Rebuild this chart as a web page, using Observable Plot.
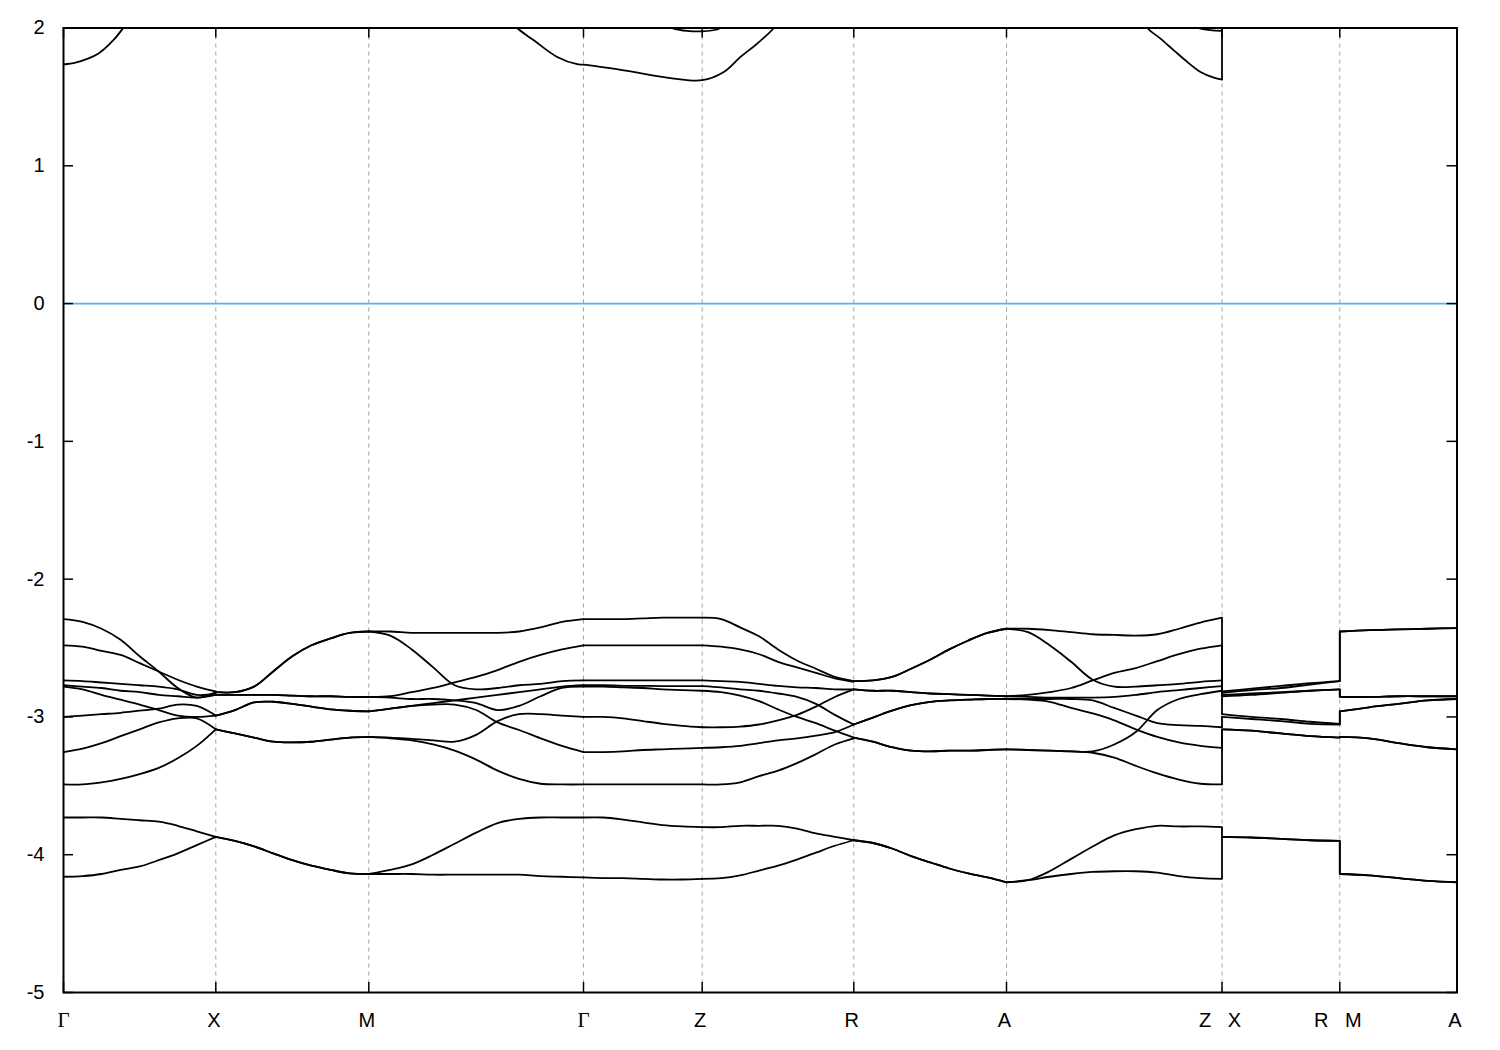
<!DOCTYPE html>
<html>
<head>
<meta charset="utf-8">
<script src="https://cdn.jsdelivr.net/npm/d3@7"></script>
<script src="https://cdn.jsdelivr.net/npm/@observablehq/plot@0.6"></script>
<style>
  body { margin: 0; background: #fff; }
  #chart svg { display: block; }
</style>
</head>
<body>
<div id="chart"></div>
<script>
// High-symmetry points along the k-path
const kTicks  = [0, 0.1523, 0.3053, 0.5200, 0.6387, 0.7903, 0.9430, 1.1585, 1.2763, 1.3935];
const kLabels = ["Γ", "X", "M", "Γ", "Z", "R", "A", "Z|X", "R|M", "A"];
const yTicks  = [-5, -4, -3, -2, -1, 0, 1, 2];

// Valence bands per path segment (equally spaced k samples, energies in eV)
const segGX = [
  [-2.29, -2.31, -2.36, -2.44, -2.56, -2.67, -2.79, -2.86, -2.82],
  [-2.48, -2.49, -2.52, -2.55, -2.61, -2.67, -2.73, -2.78, -2.815],
  [-2.735, -2.74, -2.75, -2.76, -2.77, -2.78, -2.80, -2.84, -2.83],
  [-2.77, -2.78, -2.79, -2.81, -2.82, -2.84, -2.85, -2.86, -2.84],
  [-2.78, -2.80, -2.84, -2.875, -2.91, -2.95, -2.99, -3.00, -2.99],
  [-3.00, -2.99, -2.98, -2.97, -2.955, -2.94, -2.91, -2.92, -2.99],
  [-3.255, -3.23, -3.19, -3.14, -3.09, -3.04, -3.01, -3.01, -3.09],
  [-3.49, -3.49, -3.475, -3.45, -3.415, -3.37, -3.30, -3.21, -3.09],
  [-3.73, -3.73, -3.73, -3.74, -3.75, -3.76, -3.79, -3.83, -3.87],
  [-4.16, -4.155, -4.14, -4.11, -4.085, -4.04, -3.99, -3.93, -3.87]
];
const segXM = [
  [-2.82, -2.82, -2.78, -2.67, -2.56, -2.48, -2.43, -2.39, -2.38],
  [-2.82, -2.82, -2.78, -2.67, -2.56, -2.48, -2.43, -2.39, -2.38],
  [-2.84, -2.84, -2.84, -2.84, -2.845, -2.85, -2.85, -2.855, -2.855],
  [-2.84, -2.84, -2.84, -2.84, -2.845, -2.85, -2.85, -2.855, -2.855],
  [-2.99, -2.95, -2.895, -2.89, -2.905, -2.925, -2.945, -2.955, -2.96],
  [-2.99, -2.95, -2.895, -2.89, -2.905, -2.925, -2.945, -2.955, -2.96],
  [-3.09, -3.12, -3.15, -3.18, -3.185, -3.18, -3.165, -3.15, -3.145],
  [-3.09, -3.12, -3.15, -3.18, -3.185, -3.18, -3.165, -3.15, -3.145],
  [-3.87, -3.90, -3.94, -3.99, -4.04, -4.08, -4.11, -4.135, -4.14],
  [-3.87, -3.90, -3.94, -3.99, -4.04, -4.08, -4.11, -4.135, -4.14]
];
const segMG = [
  [-2.38, -2.38, -2.39, -2.39, -2.39, -2.39, -2.39, -2.38, -2.35, -2.31, -2.29],
  [-2.38, -2.41, -2.51, -2.64, -2.77, -2.80, -2.79, -2.77, -2.76, -2.74, -2.735],
  [-2.855, -2.85, -2.82, -2.79, -2.75, -2.71, -2.66, -2.60, -2.55, -2.51, -2.48],
  [-2.855, -2.86, -2.87, -2.87, -2.88, -2.90, -2.95, -2.92, -2.85, -2.79, -2.78],
  [-2.96, -2.94, -2.92, -2.91, -2.91, -2.95, -3.04, -3.095, -3.155, -3.21, -3.255],
  [-2.96, -2.94, -2.92, -2.90, -2.88, -2.86, -2.84, -2.82, -2.80, -2.78, -2.77],
  [-3.145, -3.15, -3.16, -3.17, -3.18, -3.13, -3.03, -2.98, -2.98, -2.99, -3.00],
  [-3.145, -3.155, -3.17, -3.20, -3.245, -3.31, -3.39, -3.45, -3.485, -3.49, -3.49],
  [-4.14, -4.11, -4.07, -4.00, -3.92, -3.84, -3.77, -3.74, -3.73, -3.73, -3.73],
  [-4.14, -4.14, -4.14, -4.145, -4.145, -4.145, -4.145, -4.145, -4.155, -4.16, -4.165]
];
const segGZ = [
  [-2.29, -2.29, -2.29, -2.285, -2.28, -2.28, -2.28],
  [-2.48, -2.48, -2.48, -2.48, -2.48, -2.48, -2.48],
  [-2.735, -2.735, -2.735, -2.735, -2.735, -2.735, -2.735],
  [-2.77, -2.77, -2.774, -2.774, -2.776, -2.776, -2.776],
  [-2.78, -2.78, -2.785, -2.79, -2.80, -2.805, -2.81],
  [-3.00, -3.00, -3.01, -3.03, -3.05, -3.065, -3.075],
  [-3.255, -3.255, -3.25, -3.24, -3.235, -3.23, -3.225],
  [-3.49, -3.49, -3.49, -3.49, -3.49, -3.49, -3.49],
  [-3.73, -3.73, -3.745, -3.765, -3.785, -3.795, -3.80],
  [-4.165, -4.17, -4.17, -4.175, -4.18, -4.18, -4.175]
];
const segZR = [
  [-2.28, -2.29, -2.35, -2.415, -2.51, -2.59, -2.65, -2.71, -2.74],
  [-2.48, -2.49, -2.51, -2.545, -2.60, -2.64, -2.68, -2.72, -2.745],
  [-2.735, -2.74, -2.745, -2.76, -2.775, -2.785, -2.79, -2.80, -2.80],
  [-2.776, -2.785, -2.80, -2.81, -2.83, -2.855, -2.905, -2.985, -3.055],
  [-2.81, -2.82, -2.845, -2.885, -2.945, -3.00, -3.045, -3.10, -3.15],
  [-3.075, -3.075, -3.07, -3.055, -3.025, -2.985, -2.925, -2.855, -2.80],
  [-3.225, -3.22, -3.21, -3.19, -3.17, -3.155, -3.135, -3.11, -3.055],
  [-3.49, -3.49, -3.475, -3.43, -3.39, -3.335, -3.27, -3.20, -3.155],
  [-3.80, -3.80, -3.79, -3.79, -3.79, -3.81, -3.845, -3.87, -3.895],
  [-4.175, -4.17, -4.15, -4.115, -4.08, -4.035, -3.985, -3.935, -3.895]
];
const segRA = [
  [-2.74, -2.735, -2.71, -2.65, -2.585, -2.51, -2.445, -2.39, -2.36],
  [-2.74, -2.735, -2.71, -2.65, -2.585, -2.51, -2.445, -2.39, -2.36],
  [-2.80, -2.81, -2.81, -2.82, -2.83, -2.835, -2.84, -2.845, -2.85],
  [-2.80, -2.81, -2.81, -2.82, -2.83, -2.835, -2.84, -2.845, -2.85],
  [-3.055, -3.005, -2.955, -2.915, -2.89, -2.88, -2.875, -2.87, -2.87],
  [-3.055, -3.005, -2.955, -2.915, -2.89, -2.88, -2.875, -2.87, -2.87],
  [-3.15, -3.18, -3.22, -3.245, -3.25, -3.245, -3.245, -3.24, -3.235],
  [-3.15, -3.18, -3.22, -3.245, -3.25, -3.245, -3.245, -3.24, -3.235],
  [-3.895, -3.915, -3.955, -4.01, -4.055, -4.10, -4.135, -4.165, -4.20],
  [-3.895, -3.915, -3.955, -4.01, -4.055, -4.10, -4.135, -4.165, -4.20]
];
const segAZ = [
  [-2.36, -2.36, -2.37, -2.385, -2.40, -2.405, -2.41, -2.40, -2.36, -2.315, -2.28],
  [-2.36, -2.385, -2.48, -2.60, -2.73, -2.78, -2.78, -2.77, -2.76, -2.745, -2.735],
  [-2.85, -2.84, -2.82, -2.79, -2.735, -2.68, -2.645, -2.595, -2.545, -2.505, -2.48],
  [-2.85, -2.855, -2.86, -2.86, -2.86, -2.855, -2.84, -2.82, -2.805, -2.79, -2.776],
  [-2.87, -2.87, -2.87, -2.87, -2.88, -2.935, -2.99, -3.045, -3.06, -3.065, -3.075],
  [-3.235, -3.24, -3.245, -3.25, -3.25, -3.20, -3.11, -2.95, -2.87, -2.835, -2.81],
  [-2.87, -2.875, -2.89, -2.935, -2.975, -3.025, -3.09, -3.145, -3.185, -3.21, -3.225],
  [-3.235, -3.24, -3.245, -3.25, -3.26, -3.295, -3.355, -3.41, -3.455, -3.485, -3.49],
  [-4.20, -4.185, -4.12, -4.03, -3.94, -3.86, -3.815, -3.79, -3.795, -3.795, -3.80],
  [-4.20, -4.185, -4.16, -4.14, -4.125, -4.12, -4.12, -4.13, -4.155, -4.17, -4.175]
];
const segXR = [
  [-2.815, -2.795, -2.775, -2.755, -2.74],
  [-2.825, -2.805, -2.79, -2.765, -2.74],
  [-2.84, -2.83, -2.82, -2.81, -2.80],
  [-2.85, -2.84, -2.825, -2.81, -2.80],
  [-2.98, -3.00, -3.015, -3.035, -3.05],
  [-3.00, -3.015, -3.03, -3.05, -3.055],
  [-3.09, -3.10, -3.12, -3.14, -3.15],
  [-3.09, -3.10, -3.12, -3.14, -3.15],
  [-3.87, -3.875, -3.885, -3.895, -3.90],
  [-3.87, -3.875, -3.885, -3.895, -3.90]
];
const segMA = [
  [-2.38, -2.37, -2.365, -2.36, -2.355],
  [-2.38, -2.37, -2.365, -2.36, -2.355],
  [-2.855, -2.855, -2.85, -2.85, -2.85],
  [-2.855, -2.855, -2.85, -2.85, -2.85],
  [-2.96, -2.93, -2.905, -2.88, -2.87],
  [-2.96, -2.93, -2.905, -2.88, -2.87],
  [-3.145, -3.155, -3.19, -3.22, -3.235],
  [-3.145, -3.155, -3.19, -3.22, -3.235],
  [-4.14, -4.15, -4.17, -4.19, -4.20],
  [-4.14, -4.15, -4.17, -4.19, -4.20]
];

// Conduction bands (k, E) pairs; parts above 2 eV are clipped
const cond1 = [[0, 1.735], [0.012, 1.748], [0.025, 1.779], [0.035, 1.815], [0.045, 1.875], [0.0587, 1.99], [0.075, 2.2]];
const cond2 = [[0.442, 2.1], [0.4537, 2.0], [0.4703, 1.911], [0.4937, 1.790], [0.5137, 1.737], [0.5200, 1.734],
               [0.5603, 1.693], [0.6103, 1.633], [0.6387, 1.621], [0.6603, 1.681], [0.677, 1.790],
               [0.6937, 1.887], [0.7103, 2.0], [0.719, 2.1]];
const cond3 = [[0.600, 2.03], [0.6103, 1.996], [0.6237, 1.979], [0.6387, 1.976], [0.6537, 1.989], [0.657, 2.003], [0.665, 2.03]];
const cond4 = [[1.077, 2.08], [1.0837, 2.0], [1.097, 1.923], [1.1103, 1.838], [1.1237, 1.754], [1.137, 1.681], [1.1503, 1.640], [1.1585, 1.626]];
const cond5 = [[1.125, 2.03], [1.137, 1.996], [1.147, 1.984], [1.1585, 1.979]];
const condJumpZX = [1.626, 2.3];   // Z -> X conduction jump (upper end off-scale)

// ---- build tables ----
const segments = [segGX, segXM, segMG, segGZ, segZR, segRA, segAZ, segXR, segMA];
const bandPts = [];
segments.forEach((bands, s) => {
  const k0 = kTicks[s], k1 = kTicks[s + 1];
  bands.forEach((vals, b) => {
    const n = vals.length;
    vals.forEach((e, j) => bandPts.push({k: k0 + (k1 - k0) * j / (n - 1), e, id: `v${s}-${b}`}));
  });
});
[cond1, cond2, cond3, cond4, cond5].forEach((c, i) =>
  c.forEach(([k, e]) => bandPts.push({k, e, id: `c${i}`})));

function jumps(segA, segB, idx) {
  const a = segA.map(v => v[v.length - 1]).sort((p, q) => q - p);
  const b = segB.map(v => v[0]).sort((p, q) => q - p);
  return a.map((e, i) => ({k: kTicks[idx], e1: e, e2: b[i]}));
}
const jumpData = [...jumps(segAZ, segXR, 7), ...jumps(segXR, segMA, 8),
                  {k: kTicks[7], e1: condJumpZX[0], e2: condJumpZX[1]}];

const labelData = kTicks.map((k, i) => ({k, label: kLabels[i].replace("|", "\u00a0\u00a0\u00a0")}));
const sansLabels = labelData.filter(d => d.label !== "Γ");
const greekLabels = labelData.filter(d => d.label === "Γ");

// ---- layout ----
const W = 1500, H = 1050, mL = 63, mR = 43.5, mT = 27.5, mB = 58;
const innerW = W - mL - mR, innerH = H - mT - mB;
const tickLen = 10;

const chart = Plot.plot({
  width: W, height: H,
  marginLeft: mL, marginRight: mR, marginTop: mT, marginBottom: mB,
  style: {fontFamily: "'Liberation Sans', Arial, sans-serif", fontSize: "20px", background: "white", color: "black"},
  x: {domain: [kTicks[0], kTicks[kTicks.length - 1]], axis: null},
  y: {domain: [-5, 2], axis: null},
  marks: [
    Plot.ruleX(kTicks.slice(1, -1), {stroke: "#a0a0a0", strokeWidth: 1, strokeDasharray: "4,4"}),
    Plot.ruleY([0], {stroke: "#56b4e9", strokeWidth: 1.8}),
    Plot.line(bandPts, {x: "k", y: "e", z: "id", curve: "catmull-rom", stroke: "black", strokeWidth: 1.8, clip: true}),
    Plot.link(jumpData, {x1: "k", x2: "k", y1: "e1", y2: "e2", stroke: "black", strokeWidth: 1.8, clip: true}),
    Plot.frame({stroke: "black", strokeWidth: 2}),
    Plot.tickX(kTicks, {x: d => d, insetTop: innerH - tickLen, stroke: "black", strokeWidth: 1.5}),
    Plot.tickX(kTicks, {x: d => d, insetBottom: innerH - tickLen, stroke: "black", strokeWidth: 1.5}),
    Plot.tickY(yTicks, {y: d => d, insetRight: innerW - tickLen, stroke: "black", strokeWidth: 1.5}),
    Plot.tickY(yTicks, {y: d => d, insetLeft: innerW - tickLen, stroke: "black", strokeWidth: 1.5}),
    Plot.text(yTicks, {y: d => d, text: d => String(d), frameAnchor: "left", textAnchor: "end", dx: -19, fontSize: 20, fill: "black"}),
    Plot.text(sansLabels, {x: "k", text: "label", frameAnchor: "bottom", dy: 34, dx: -2, fontSize: 20, fill: "black"}),
    Plot.text(greekLabels, {x: "k", text: "label", frameAnchor: "bottom", dy: 34, fontSize: 21, fill: "black",
                            fontFamily: "'Liberation Serif', 'DejaVu Serif', serif"})
  ]
});
document.getElementById("chart").appendChild(chart);
</script>
</body>
</html>
